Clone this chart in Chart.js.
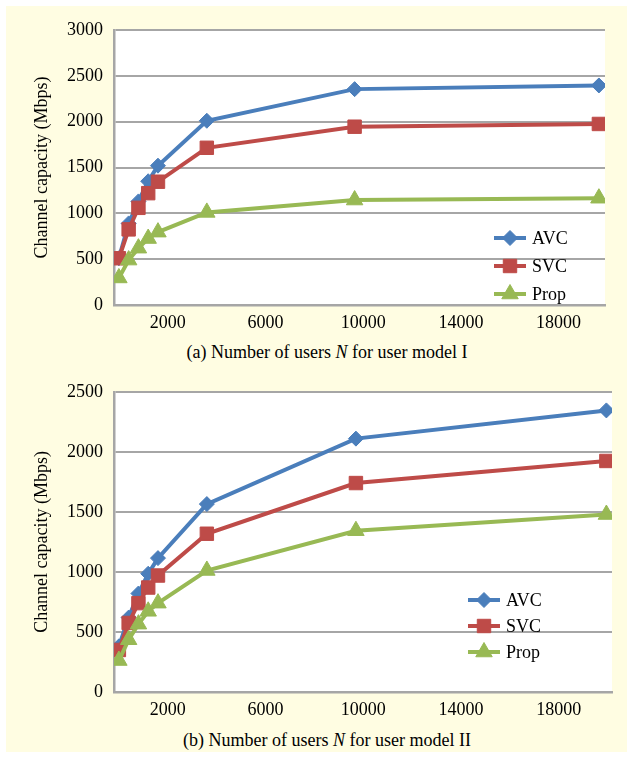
<!DOCTYPE html>
<html>
<head>
<meta charset="utf-8">
<script src="https://cdn.jsdelivr.net/npm/chart.js@4/dist/chart.umd.min.js"></script>
<style>
  body { margin: 0; width: 632px; height: 758px; background: #fff; position: relative; overflow: hidden; }
  #panel { position: absolute; left: 6px; top: 6px; width: 621px; height: 746px; background: #FFFDE2; }
  canvas { position: absolute; left: 0; }
  .caption { position: absolute; left: 22px; width: 610px; text-align: center;
    font: 18px "Liberation Serif", "Times New Roman", serif; line-height: 22px; color: #000; }
</style>
</head>
<body>
<div id="panel"></div>
<canvas id="chartA" width="632" height="340" style="top:0"></canvas>
<div class="caption" style="top:341px">(a) Number of users <i>N</i> for user model I</div>
<canvas id="chartB" width="632" height="350" style="top:370px"></canvas>
<div class="caption" style="top:729px">(b) Number of users <i>N</i> for user model II</div>
<script>
// data
const seriesNames = ["AVC", "SVC", "Prop"];
const xTicks = [2000, 6000, 10000, 14000, 18000];

// (a) user model I
const usersA = [0, 400, 800, 1200, 1600, 3600, 9650, 19650];
const avcA = [510, 890, 1130, 1350, 1520, 2010, 2355, 2395];
const svcA = [510, 825, 1060, 1220, 1345, 1715, 1945, 1975];
const propA = [295, 490, 620, 725, 795, 1010, 1145, 1165];

// (b) user model II
const usersB = [0, 400, 800, 1200, 1600, 3600, 9700, 19950];
const avcB = [380, 620, 820, 985, 1115, 1565, 2110, 2345];
const svcB = [350, 575, 740, 870, 970, 1318, 1740, 1924];
const propB = [262, 435, 565, 672, 740, 1012, 1343, 1478];

const FONT = '"Liberation Serif", "Times New Roman", serif';
const GRID = "#A6A6A6";
const colors = ["#4A7EBB", "#BE4B48", "#98B954"];
const styles = [
  { pointStyle: "rectRot", radius: 7.5 },
  { pointStyle: "rect", radius: 9.5 },
  { pointStyle: "triangle", radius: 9.5 }
];

function pts(xs, ys) {
  return xs.map((x, i) => ({ x: x, y: ys[i] }));
}

function makeSets(xs, lists) {
  return lists.map((ys, i) => ({
    label: seriesNames[i],
    data: pts(xs, ys),
    borderColor: colors[i],
    backgroundColor: colors[i],
    borderWidth: 4,
    pointStyle: styles[i].pointStyle,
    pointRadius: styles[i].radius,
    pointHoverRadius: styles[i].radius,
    pointBorderWidth: 1,
    tension: 0,
    order: 3 - i
  }));
}

// white plot area
const plotBg = {
  id: "plotBg",
  beforeDraw(chart) {
    const a = chart.chartArea, ctx = chart.ctx;
    ctx.save();
    ctx.fillStyle = "#fff";
    ctx.fillRect(a.left, a.top, a.right - a.left, a.bottom - a.top);
    ctx.restore();
  }
};

// legend drawn inside the plot, lines with markers
const innerLegend = {
  id: "innerLegend",
  afterDraw(chart, args, opts) {
    const ctx = chart.ctx;
    ctx.save();
    chart.data.datasets.forEach((ds, i) => {
      const y = opts.y + i * opts.gap;
      ctx.strokeStyle = ds.borderColor;
      ctx.fillStyle = ds.backgroundColor;
      ctx.lineWidth = 4;
      ctx.beginPath();
      ctx.moveTo(opts.x, y);
      ctx.lineTo(opts.x + opts.len, y);
      ctx.stroke();
      ctx.lineWidth = 1;
      Chart.helpers.drawPoint(ctx, { pointStyle: ds.pointStyle, radius: ds.pointRadius, borderWidth: 1, rotation: 0 },
        opts.x + opts.len / 2, y);
      ctx.fillStyle = "#000";
      ctx.font = "18px " + FONT;
      ctx.textBaseline = "middle";
      ctx.fillText(ds.label, opts.x + opts.len + 6, y + 1);
    });
    ctx.restore();
  }
};

function makeChart(id, xs, lists, cfg) {
  return new Chart(document.getElementById(id), {
    type: "line",
    data: { datasets: makeSets(xs, lists) },
    plugins: [plotBg, innerLegend],
    options: {
      responsive: false,
      animation: false,
      layout: { padding: { top: cfg.padTop, right: cfg.padRight, bottom: 0, left: 0 } },
      plugins: {
        legend: { display: false },
        tooltip: { enabled: false },
        innerLegend: cfg.legend
      },
      scales: {
        x: {
          type: "linear",
          min: -200,
          max: cfg.xMax,
          afterBuildTicks: s => { s.ticks = xTicks.map(v => ({ value: v })); },
          afterFit: s => { s.height = cfg.xHeight; },
          grid: { display: false, drawTicks: false },
          border: { display: true, color: GRID, width: 2.5 },
          ticks: {
            color: "#000", padding: 7, maxRotation: 0, autoSkip: false,
            font: { family: FONT, size: 18 },
            callback: v => String(v)
          }
        },
        y: {
          min: 0,
          max: cfg.yMax,
          afterFit: s => { s.width = 114; },
          grid: { color: GRID, lineWidth: 2, drawTicks: false },
          border: { display: true, color: GRID, width: 2.5 },
          ticks: {
            stepSize: 500, color: "#000", padding: 11,
            font: { family: FONT, size: 18 },
            callback: v => String(v)
          },
          title: {
            display: true,
            text: "Channel capacity (Mbps)",
            color: "#000",
            font: { family: FONT, size: 18 },
            padding: { top: 31, bottom: 0 }
          }
        }
      }
    }
  });
}

makeChart("chartA", usersA, [avcA, svcA, propA], {
  padTop: 30, padRight: 27, xHeight: 35, xMax: 19900, yMax: 3000,
  legend: { x: 494, y: 238, gap: 28, len: 32 }
});

makeChart("chartB", usersB, [avcB, svcB, propB], {
  padTop: 21, padRight: 20, xHeight: 28, xMax: 20180, yMax: 2500,
  legend: { x: 468, y: 230, gap: 26, len: 32 }
});
</script>
</body>
</html>
